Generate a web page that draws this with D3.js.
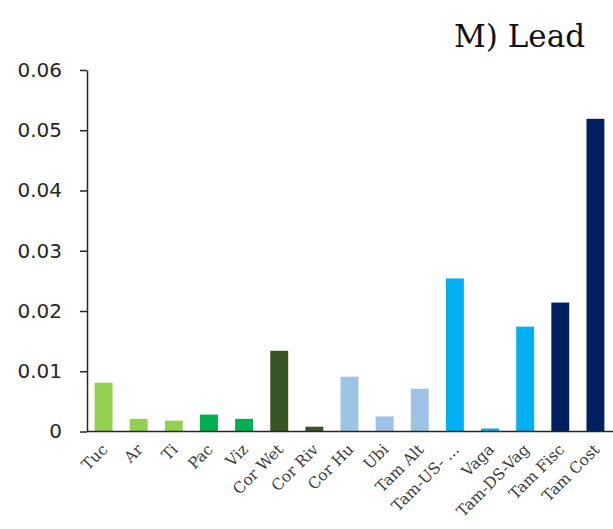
<!DOCTYPE html>
<html>
<head>
<meta charset="utf-8">
<script src="https://cdn.jsdelivr.net/npm/d3@7"></script>
<style>
  html, body { margin: 0; padding: 0; background: #fff; }
  svg { display: block; }
</style>
</head>
<body>
<svg id="chart" width="613" height="529"></svg>
<script>
// Sites along the transect and their lead concentrations
const sites = ["Tuc", "Ar", "Ti", "Pac", "Viz", "Cor Wet", "Cor Riv", "Cor Hu", "Ubi",
               "Tam Alt", "Tam-US- ...", "Vaga", "Tam-DS-Vag", "Tam Fisc", "Tam Cost"];
const leadValues = [0.0081, 0.0021, 0.0018, 0.0028, 0.0021, 0.0134, 0.0008, 0.0091, 0.0025,
                    0.0071, 0.0254, 0.0005, 0.0174, 0.0214, 0.0519];
const groupOfSite = ["a", "a", "a", "b", "b", "c", "c", "d", "d", "d", "e", "e", "e", "f", "f"];
const groups = ["a", "b", "c", "d", "e", "f"];
const groupColors = ["#92D050", "#00B050", "#375623", "#9DC3E6", "#00B0F0", "#002060"];
const yTicks = [0, 0.01, 0.02, 0.03, 0.04, 0.05, 0.06];
const chartTitle = "M) Lead";

const svg = d3.select("#chart");
const plotLeft = 87, plotRight = 613, plotTop = 70, plotBottom = 431.5;

const x = d3.scaleBand()
  .domain(sites)
  .range([plotLeft - 1, plotRight])
  .paddingInner(0.49)
  .paddingOuter(0.245);

const y = d3.scaleLinear().domain([0, 0.06]).range([plotBottom, plotTop]);
const color = d3.scaleOrdinal().domain(groups).range(groupColors);

// Bars
svg.append("g")
  .selectAll("rect")
  .data(sites)
  .join("rect")
  .attr("x", d => x(d))
  .attr("width", x.bandwidth())
  .attr("y", (d, i) => y(leadValues[i]))
  .attr("height", (d, i) => y(0) - y(leadValues[i]))
  .attr("fill", (d, i) => color(groupOfSite[i]));

// Y axis
const yAxis = svg.append("g")
  .attr("transform", `translate(${plotLeft},0)`)
  .call(d3.axisLeft(y).tickValues(yTicks).tickSize(7).tickPadding(18)
    .tickFormat(d => d === 0 ? "0" : d3.format(".2f")(d)).tickSizeOuter(0));
yAxis.select(".domain").attr("stroke", "#262626").attr("stroke-width", 1.5);
yAxis.selectAll(".tick line").attr("stroke", "#262626").attr("stroke-width", 1.5);
yAxis.selectAll(".tick text")
  .attr("font-family", "DejaVu Sans, sans-serif")
  .attr("font-size", 20)
  .attr("fill", "#262626");

// X axis
const xAxis = svg.append("g")
  .attr("transform", `translate(0,${plotBottom})`)
  .call(d3.axisBottom(x).tickSize(0).tickSizeOuter(0).tickPadding(0));
xAxis.select(".domain").attr("stroke", "#262626").attr("stroke-width", 1.5)
  .attr("d", `M${plotLeft},0H${plotRight}`);
xAxis.selectAll(".tick text")
  .attr("font-family", "DejaVu Serif, serif")
  .attr("font-size", 15.5)
  .attr("fill", "#3a3a3a")
  .attr("text-anchor", "end")
  .attr("dy", null)
  .attr("transform", "translate(5,19) rotate(-45)");

// Title
svg.append("text")
  .attr("x", 585)
  .attr("y", 47)
  .attr("text-anchor", "end")
  .attr("font-family", "DejaVu Serif, serif")
  .attr("font-size", 31)
  .attr("fill", "#111")
  .text(chartTitle);
</script>
</body>
</html>
